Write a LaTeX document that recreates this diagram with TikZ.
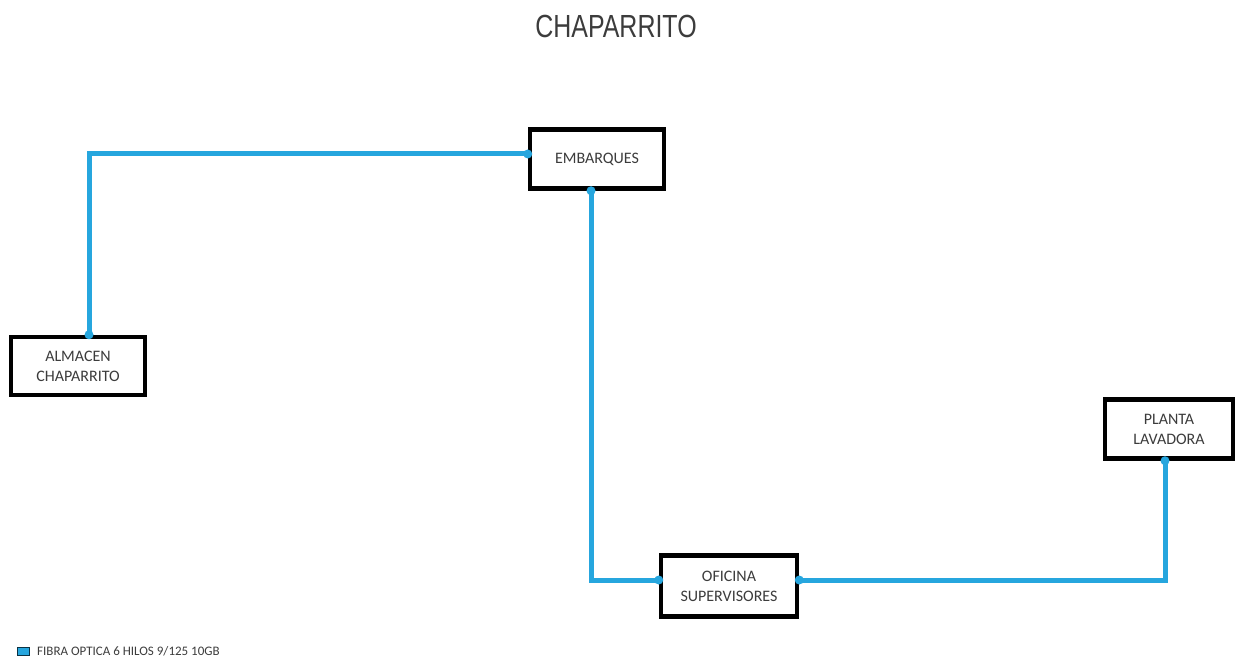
\documentclass[tikz,border=0pt]{standalone}
\usepackage{fontspec}
\setmainfont{Carlito}
\newfontfamily\titlefont{Liberation Sans}
\definecolor{fiber}{RGB}{38,166,222}
\definecolor{txtgray}{RGB}{60,60,60}
\begin{document}
\begin{tikzpicture}[x=1pt,y=-1pt,
  site/.style={draw=black,line width=4.5pt,fill=white,align=center,inner sep=0pt,
    font=\fontsize{16}{20}\selectfont,text=txtgray},
  cable/.style={draw=fiber,line width=5pt,line join=miter},
  enddot/.style={fill=fiber}]
\useasboundingbox (0,0) rectangle (1236,663);
\node[font=\titlefont\fontsize{32}{36}\selectfont,text=txtgray,xscale=0.78] (title) at (616,26) {CHAPARRITO};
% sites
\node[site,minimum width=134pt,minimum height=59pt] (emb) at (597,159) {EMBARQUES};
\node[site,minimum width=134pt,minimum height=58pt] (alm) at (78,366) {ALMACEN\\CHAPARRITO};
\node[site,minimum width=128pt,minimum height=59pt] (pla) at (1169,429) {PLANTA\\LAVADORA};
\node[site,minimum width=136pt,minimum height=61pt] (ofi) at (729,586) {OFICINA\\SUPERVISORES};
% cables
\draw[cable] ([xshift=11pt]alm.north) |- ([yshift=5pt]emb.west);
\draw[cable] ([xshift=-6pt]emb.south) |- ([yshift=6pt]ofi.west);
\draw[cable] ([yshift=6pt]ofi.east) -| ([xshift=-4pt]pla.south);
% end dots
\foreach \p in {([xshift=11pt]alm.north),([yshift=5pt]emb.west),([xshift=-6pt]emb.south),([yshift=6pt]ofi.west),([yshift=6pt]ofi.east),([xshift=-4pt]pla.south)}
  \fill[enddot] \p circle (4.5pt);
% legend
\node[draw=black!70!fiber,fill=fiber,line width=1pt,minimum width=12pt,minimum height=8pt,inner sep=0pt] (key) at (23.5,651) {};
\node[anchor=west,font=\fontsize{13}{15}\selectfont,text=txtgray,inner sep=0pt] (keytext) at ([xshift=7pt]key.east) {FIBRA OPTICA 6 HILOS 9/125 10GB};
\end{tikzpicture}
\end{document}
